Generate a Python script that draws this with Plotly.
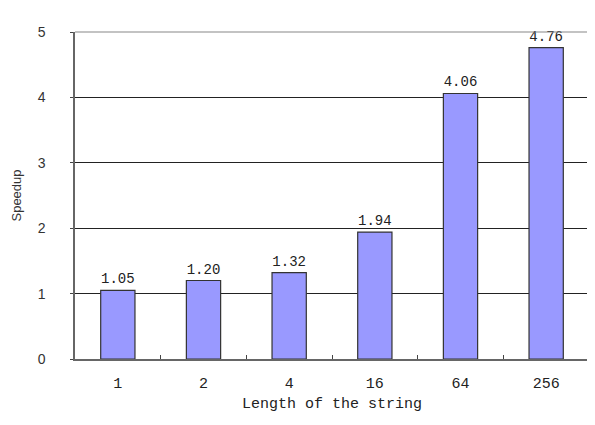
import plotly.graph_objects as go

categories = ["1", "2", "4", "16", "64", "256"]
speedup = [1.05, 1.20, 1.32, 1.94, 4.06, 4.76]
speedup_labels = ["1.05", "1.20", "1.32", "1.94", "4.06", "4.76"]
y_ticks = [0, 1, 2, 3, 4, 5]

mono = "Liberation Mono, DejaVu Sans Mono, monospace"
sans = "Liberation Sans, DejaVu Sans, sans-serif"

fig = go.Figure(go.Bar(
    x=categories, y=speedup,
    text=speedup_labels, textposition="outside", cliponaxis=False,
    textfont=dict(family=mono, size=14, color="#222"),
    marker=dict(color="#9999FF", line=dict(color="#333333", width=1.2)),
    width=0.4,
))

# page body has an 8px margin, so the figure is sized/offset accordingly
W, H = 587, 417
L, R, T, B = 67, 6, 24, 66

fig.update_layout(
    width=W, height=H,
    margin=dict(l=L, r=R, t=T, b=B),
    paper_bgcolor="white", plot_bgcolor="white",
    showlegend=False,
    xaxis=dict(
        type="category",
        showline=True, linecolor="#666666", linewidth=1.5,
        ticks="inside", ticklen=4, tickcolor="#444", tickson="boundaries",
        tickfont=dict(family=mono, size=15, color="#222"),
        ticklabelstandoff=9,
        title=dict(text="Length of the string", font=dict(family=mono, size=15, color="#222"), standoff=6),
        showgrid=False,
    ),
    yaxis=dict(
        range=[0, 5], tickvals=y_ticks,
        showline=True, linecolor="#666666", linewidth=1.5,
        ticks="outside", ticklen=3, tickcolor="#444",
        showgrid=True, gridcolor="#222222", gridwidth=1,
        tickfont=dict(family=sans, size=14, color="#333"),
        ticklabelstandoff=22,
        title=dict(text="Speedup", font=dict(family=sans, size=13, color="#333"), standoff=13),
        zeroline=False,
    ),
    shapes=[
        dict(type="line", xref="paper", yref="paper", x0=0, x1=1, y0=1, y1=1,
             line=dict(color="#888888", width=1.2), layer="above"),
        dict(type="line", xref="paper", yref="paper", x0=1, x1=1, y0=0, y1=1,
             line=dict(color="#888888", width=1.2), layer="above"),
    ],
)

fig.write_html("out.html")
